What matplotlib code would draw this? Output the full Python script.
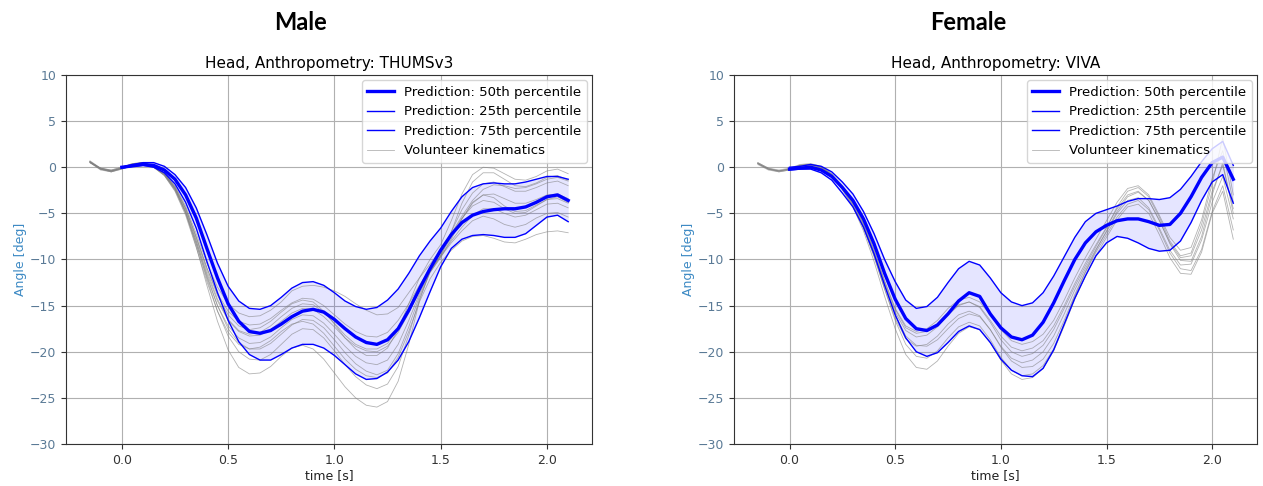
import matplotlib
matplotlib.use("Agg")
import matplotlib.pyplot as plt

# time axis of the volunteer traces [s]; predictions start at t = 0.0 (index 3)
T_VOL = [-0.15, -0.10, -0.05, 0.00, 0.05, 0.10, 0.15, 0.20, 0.25, 0.30,
         0.35, 0.40, 0.45, 0.50, 0.55, 0.60, 0.65, 0.70, 0.75, 0.80,
         0.85, 0.90, 0.95, 1.00, 1.05, 1.10, 1.15, 1.20, 1.25, 1.30,
         1.35, 1.40, 1.45, 1.50, 1.55, 1.60, 1.65, 1.70, 1.75, 1.80,
         1.85, 1.90, 1.95, 2.00, 2.05, 2.10]
T_PRED = T_VOL[3:]

# ---- Male, THUMSv3 ----
MALE_P50 = [0.0, 0.15, 0.3, 0.2, -0.3, -1.3, -3.0, -5.5, -8.8, -12.0,
            -14.8, -16.7, -17.8, -18.0, -17.7, -17.0, -16.2, -15.6, -15.4, -15.7,
            -16.5, -17.5, -18.4, -19.0, -19.2, -18.7, -17.5, -15.5, -13.2, -11.0,
            -9.0, -7.3, -6.0, -5.2, -4.8, -4.6, -4.5, -4.5, -4.3, -3.8,
            -3.2, -3.0, -3.6]
MALE_P25 = [-0.1, 0.1, 0.2, 0.0, -0.6, -1.8, -3.8, -6.6, -10.2, -13.6,
            -16.6, -18.9, -20.3, -20.9, -20.9, -20.3, -19.6, -19.2, -19.2, -19.6,
            -20.4, -21.4, -22.4, -23.0, -22.9, -22.2, -20.9, -18.9, -16.3, -13.5,
            -10.8, -8.8, -7.8, -7.4, -7.3, -7.4, -7.6, -7.6, -7.2, -6.3,
            -5.4, -5.2, -5.9]
MALE_P75 = [0.0, 0.3, 0.5, 0.5, 0.1, -0.8, -2.2, -4.4, -7.3, -10.4,
            -12.9, -14.5, -15.3, -15.4, -15.0, -14.1, -13.1, -12.5, -12.4, -12.8,
            -13.6, -14.5, -15.1, -15.4, -15.2, -14.4, -13.2, -11.5, -9.6, -8.0,
            -6.6, -4.8, -3.2, -2.2, -1.8, -1.7, -1.8, -1.8, -1.6, -1.3,
            -1.0, -1.0, -1.3]
MALE_VOL = [
    [0.5, -0.1, -0.3, 0.0, 0.4, 0.5, 0.1, -0.6, -2.0, -4.2, -7.2, -10.4, -13.0, -14.8, -15.8, -16.2,
     -16.1, -15.5, -14.6, -13.4, -12.9, -12.8, -13.0, -13.4, -14.0, -14.8, -15.5, -16.0, -15.9, -15.2,
     -13.6, -12.0, -10.5, -9.0, -7.2, -5.3, -3.6, -2.4, -1.9, -2.0, -2.3, -2.2, -1.8, -1.3, -1.1, -1.5],
    [0.6, -0.2, -0.4, -0.1, 0.3, 0.5, 0.1, -0.7, -2.2, -4.5, -7.6, -10.9, -13.7, -15.6, -16.7, -17.1,
     -17.0, -16.4, -15.5, -14.7, -14.2, -14.3, -15.0, -16.0, -17.0, -17.8, -18.3, -18.4, -17.9, -16.6,
     -14.8, -12.8, -11.0, -9.3, -7.0, -4.6, -2.8, -1.8, -1.6, -2.1, -2.6, -2.6, -2.2, -1.7, -1.5, -2.0],
    [0.7, -0.1, -0.4, -0.1, 0.3, 0.4, 0.0, -0.8, -2.4, -4.8, -8.0, -11.5, -14.5, -16.6, -17.8, -18.3,
     -18.2, -17.6, -16.7, -15.8, -15.3, -15.4, -16.2, -17.3, -18.5, -19.4, -19.9, -20.0, -19.4, -17.9,
     -15.8, -13.4, -11.3, -9.5, -7.6, -5.6, -3.9, -3.0, -2.9, -3.4, -3.9, -3.9, -3.5, -3.0, -2.9, -3.4],
    [0.5, -0.3, -0.5, -0.2, 0.2, 0.4, 0.0, -0.9, -2.5, -5.0, -8.3, -11.9, -15.0, -17.2, -18.5, -19.1,
     -19.0, -18.4, -17.4, -16.5, -16.0, -16.1, -16.9, -18.1, -19.4, -20.5, -21.2, -21.4, -20.9, -19.2,
     -16.6, -13.7, -11.3, -9.6, -8.0, -6.5, -5.2, -4.5, -4.5, -5.0, -5.4, -5.2, -4.6, -4.0, -3.9, -4.4],
    [0.6, -0.2, -0.5, -0.1, 0.3, 0.5, 0.1, -0.8, -2.3, -4.7, -8.0, -11.7, -15.0, -17.5, -19.0, -19.7,
     -19.7, -19.1, -18.1, -17.1, -16.5, -16.6, -17.4, -18.7, -20.1, -21.3, -22.1, -22.5, -22.0, -20.2,
     -17.3, -14.0, -11.4, -9.7, -8.2, -6.9, -5.8, -5.3, -5.6, -6.2, -6.5, -6.2, -5.5, -5.0, -4.9, -5.4],
    [0.5, -0.2, -0.4, -0.1, 0.3, 0.4, 0.0, -0.8, -2.4, -4.9, -8.3, -12.1, -15.6, -18.3, -20.0, -20.8,
     -20.9, -20.3, -19.2, -18.1, -17.5, -17.6, -18.5, -19.9, -21.4, -22.7, -23.6, -24.0, -23.5, -21.6,
     -18.2, -14.3, -11.4, -9.8, -7.8, -5.6, -3.8, -3.0, -3.3, -4.2, -4.8, -4.7, -4.1, -3.5, -3.4, -3.9],
    [0.6, -0.1, -0.4, -0.1, 0.3, 0.5, 0.1, -0.7, -2.3, -4.9, -8.6, -12.8, -16.7, -19.8, -21.7, -22.4,
     -22.3, -21.6, -20.5, -19.6, -19.3, -19.7, -20.8, -22.3, -23.8, -25.0, -25.8, -26.0, -25.4, -23.2,
     -19.2, -14.5, -11.2, -9.6, -7.0, -3.9, -1.6, -0.6, -0.6, -1.3, -2.0, -2.1, -1.7, -1.1, -0.9, -1.4],
    [0.5, -0.2, -0.5, -0.2, 0.2, 0.4, 0.0, -0.9, -2.6, -5.2, -8.7, -12.4, -15.6, -17.9, -19.2, -19.7,
     -19.5, -18.8, -17.8, -17.0, -16.7, -17.0, -18.0, -19.4, -20.8, -21.9, -22.6, -22.8, -22.3, -20.6,
     -17.8, -14.6, -12.1, -10.3, -9.0, -8.0, -7.5, -7.4, -7.7, -8.1, -8.2, -7.8, -7.3, -7.0, -6.9, -7.1],
    [0.6, -0.1, -0.3, 0.0, 0.4, 0.5, 0.1, -0.6, -2.1, -4.4, -7.5, -10.9, -13.9, -16.0, -17.2, -17.6,
     -17.4, -16.7, -15.7, -14.8, -14.4, -14.6, -15.6, -17.0, -18.5, -19.7, -20.4, -20.4, -19.6, -17.6,
     -14.8, -12.0, -10.0, -8.4, -5.8, -2.9, -0.8, 0.0, -0.1, -0.7, -1.3, -1.4, -1.0, -0.4, -0.2, -0.7],
    [0.6, -0.2, -0.4, -0.1, 0.3, 0.5, 0.1, -0.7, -2.2, -4.5, -7.7, -11.2, -14.3, -16.5, -17.7, -18.1,
     -17.9, -17.2, -16.2, -15.3, -14.8, -14.9, -15.7, -16.9, -18.2, -19.2, -19.7, -19.7, -19.1, -17.5,
     -15.3, -12.9, -10.9, -9.2, -7.3, -5.5, -4.2, -3.6, -3.8, -4.5, -5.0, -4.9, -4.2, -3.5, -3.2, -3.8],
]

# ---- Female, VIVA ----
FEMALE_P50 = [-0.2, -0.1, 0.0, -0.3, -1.0, -2.2, -3.6, -5.6, -8.3, -11.5,
              -14.3, -16.4, -17.5, -17.7, -17.1, -15.9, -14.5, -13.6, -14.0, -15.9,
              -17.4, -18.4, -18.7, -18.2, -16.8, -14.7, -12.3, -10.0, -8.2, -7.0,
              -6.3, -5.8, -5.6, -5.6, -5.9, -6.3, -6.2, -5.0, -3.2, -1.1,
              0.5, 1.1, -1.3]
FEMALE_P25 = [-0.3, -0.2, -0.2, -0.6, -1.4, -2.8, -4.3, -6.5, -9.4, -12.8,
              -16.0, -18.5, -20.0, -20.5, -20.1, -19.0, -17.8, -17.2, -17.6, -19.0,
              -20.8, -22.0, -22.6, -22.7, -21.8, -19.8, -17.0, -14.2, -11.8, -9.6,
              -8.2, -7.5, -7.7, -8.2, -8.8, -9.1, -9.0, -8.0, -6.0, -3.6,
              -1.6, -0.8, -3.9]
FEMALE_P75 = [0.0, 0.1, 0.3, 0.1, -0.5, -1.6, -2.9, -4.8, -7.2, -10.0,
              -12.4, -14.4, -15.3, -15.1, -14.1, -12.5, -11.0, -10.2, -10.6, -12.0,
              -13.6, -14.6, -15.0, -14.7, -13.6, -11.8, -9.7, -7.6, -5.9, -5.0,
              -4.6, -4.2, -3.7, -3.4, -3.4, -3.5, -3.3, -2.4, -1.0, 0.6,
              2.0, 2.8, 0.2]
FEMALE_VOL = [
    [0.4, -0.2, -0.4, -0.2, 0.2, 0.3, 0.0, -0.8, -2.2, -3.9, -6.2, -9.2, -12.6, -15.7, -17.7, -18.4,
     -18.2, -17.3, -16.0, -15.0, -14.6, -15.1, -16.6, -18.3, -19.5, -19.9, -19.6, -18.8, -17.2, -15.0,
     -12.6, -10.4, -8.4, -6.5, -4.5, -3.0, -2.6, -3.6, -5.8, -8.2, -9.8, -9.6, -6.8, -2.6, 0.2, -4.5],
    [0.3, -0.3, -0.5, -0.3, 0.1, 0.2, -0.1, -0.9, -2.4, -4.2, -6.6, -9.7, -13.2, -16.4, -18.6, -19.4,
     -19.2, -18.3, -17.0, -16.0, -15.6, -16.1, -17.6, -19.4, -20.7, -21.2, -20.9, -20.0, -18.3, -15.9,
     -13.3, -11.0, -8.9, -7.0, -5.0, -3.6, -3.3, -4.4, -6.6, -9.0, -10.6, -10.5, -7.9, -3.8, -1.0, -5.6],
    [0.5, -0.1, -0.3, -0.1, 0.3, 0.4, 0.1, -0.7, -2.0, -3.7, -6.0, -8.9, -12.3, -15.3, -17.2, -17.8,
     -17.5, -16.6, -15.3, -14.4, -14.1, -14.6, -16.0, -17.6, -18.8, -19.2, -18.9, -18.1, -16.6, -14.4,
     -12.0, -9.8, -7.8, -5.8, -3.8, -2.3, -2.0, -3.0, -5.2, -7.6, -9.0, -8.7, -5.7, -1.2, 1.8, -3.8],
    [0.4, -0.2, -0.4, -0.2, 0.2, 0.3, 0.0, -0.8, -2.3, -4.1, -6.5, -9.6, -13.2, -16.6, -19.2, -20.5,
     -20.7, -19.9, -18.5, -17.3, -16.8, -17.2, -18.7, -20.6, -22.0, -22.6, -22.4, -21.5, -19.7, -17.0,
     -14.0, -11.4, -9.2, -7.3, -5.4, -4.0, -3.6, -4.6, -6.8, -9.3, -11.0, -11.2, -8.9, -4.8, -2.0, -6.8],
    [0.4, -0.2, -0.4, -0.2, 0.2, 0.3, 0.0, -0.8, -2.2, -4.0, -6.3, -9.3, -12.8, -16.0, -18.3, -19.3,
     -19.4, -18.7, -17.5, -16.4, -15.9, -16.2, -17.6, -19.5, -21.0, -21.7, -21.6, -20.8, -19.1, -16.6,
     -13.8, -11.3, -9.0, -6.9, -4.8, -3.2, -2.7, -3.6, -5.7, -8.3, -10.1, -10.2, -7.5, -3.0, 0.5, -5.0],
    [0.4, -0.2, -0.5, -0.3, 0.1, 0.2, -0.1, -0.9, -2.4, -4.3, -6.9, -10.2, -14.0, -17.5, -20.3, -21.7,
     -21.9, -21.0, -19.4, -18.0, -17.3, -17.6, -19.0, -20.9, -22.4, -23.0, -22.8, -21.8, -19.9, -17.2,
     -14.3, -11.8, -9.6, -7.6, -5.7, -4.3, -4.0, -5.0, -7.3, -9.8, -11.5, -11.6, -9.2, -5.0, -2.6, -7.8],
    [0.5, -0.1, -0.4, -0.2, 0.2, 0.3, 0.0, -0.8, -2.1, -3.8, -6.1, -9.0, -12.4, -15.4, -17.4, -18.0,
     -17.8, -17.0, -15.8, -14.9, -14.6, -15.2, -16.8, -18.7, -20.0, -20.5, -20.2, -19.3, -17.6, -15.3,
     -12.9, -10.7, -8.6, -6.6, -4.3, -2.6, -2.2, -3.2, -5.4, -8.0, -9.6, -9.3, -6.2, -1.8, 3.2, -3.0],
]

PANELS = [
    ("Male", "Head, Anthropometry: THUMSv3", MALE_P50, MALE_P25, MALE_P75, MALE_VOL),
    ("Female", "Head, Anthropometry: VIVA", FEMALE_P50, FEMALE_P25, FEMALE_P75, FEMALE_VOL),
]

fig = plt.figure(figsize=(12.63, 4.86), dpi=100)
ax_boxes = [[0.0523, 0.0864, 0.4165, 0.7593], [0.5812, 0.0864, 0.4141, 0.7593]]
header_x = [301 / 1263, 968 / 1263]

for i, (header, title, p50, p25, p75, vol) in enumerate(PANELS):
    ax = fig.add_axes(ax_boxes[i])
    ax.fill_between(T_PRED, p25, p75, color='blue', alpha=0.1, lw=0, zorder=1)
    ax.plot(T_PRED, p50, color='blue', lw=2.4, label='Prediction: 50th percentile', zorder=4)
    ax.plot(T_PRED, p25, color='blue', lw=1.0, label='Prediction: 25th percentile', zorder=4)
    ax.plot(T_PRED, p75, color='blue', lw=1.0, label='Prediction: 75th percentile', zorder=4)
    for j, v in enumerate(vol):
        ax.plot(T_VOL, v, color='gray', lw=0.6, alpha=0.6, zorder=3,
                label='Volunteer kinematics' if j == 0 else None)

    ax.set_ylim(-30, 10)
    ax.set_yticks([-30, -25, -20, -15, -10, -5, 0, 5, 10])
    ax.set_xticks([0.0, 0.5, 1.0, 1.5, 2.0])
    ax.grid(True, color='#b0b0b0', lw=0.8)
    ax.set_axisbelow(True)
    ax.set_title(title, fontsize=11, pad=5)
    ax.set_xlabel('time [s]', fontsize=9, labelpad=2, color='#222222')
    ax.set_ylabel('Angle [deg]', fontsize=9, color='#3d8ac4', labelpad=2)
    ax.tick_params(axis='x', labelsize=9, colors='#333333', labelcolor='#333333')
    ax.tick_params(axis='y', labelsize=9, colors='#333333', labelcolor='#5a7a96')
    for s in ax.spines.values():
        s.set_color('#333333')
    ax.legend(loc='upper right', fontsize=9.5, handlelength=2.0,
              borderaxespad=0.4, labelspacing=0.5)

    fig.text(header_x[i], 1 - 22 / 486, header, ha='center', va='center',
             fontsize=17, fontweight='bold', family=['Lato', 'DejaVu Sans'])

fig.savefig('out.png', dpi=100)
